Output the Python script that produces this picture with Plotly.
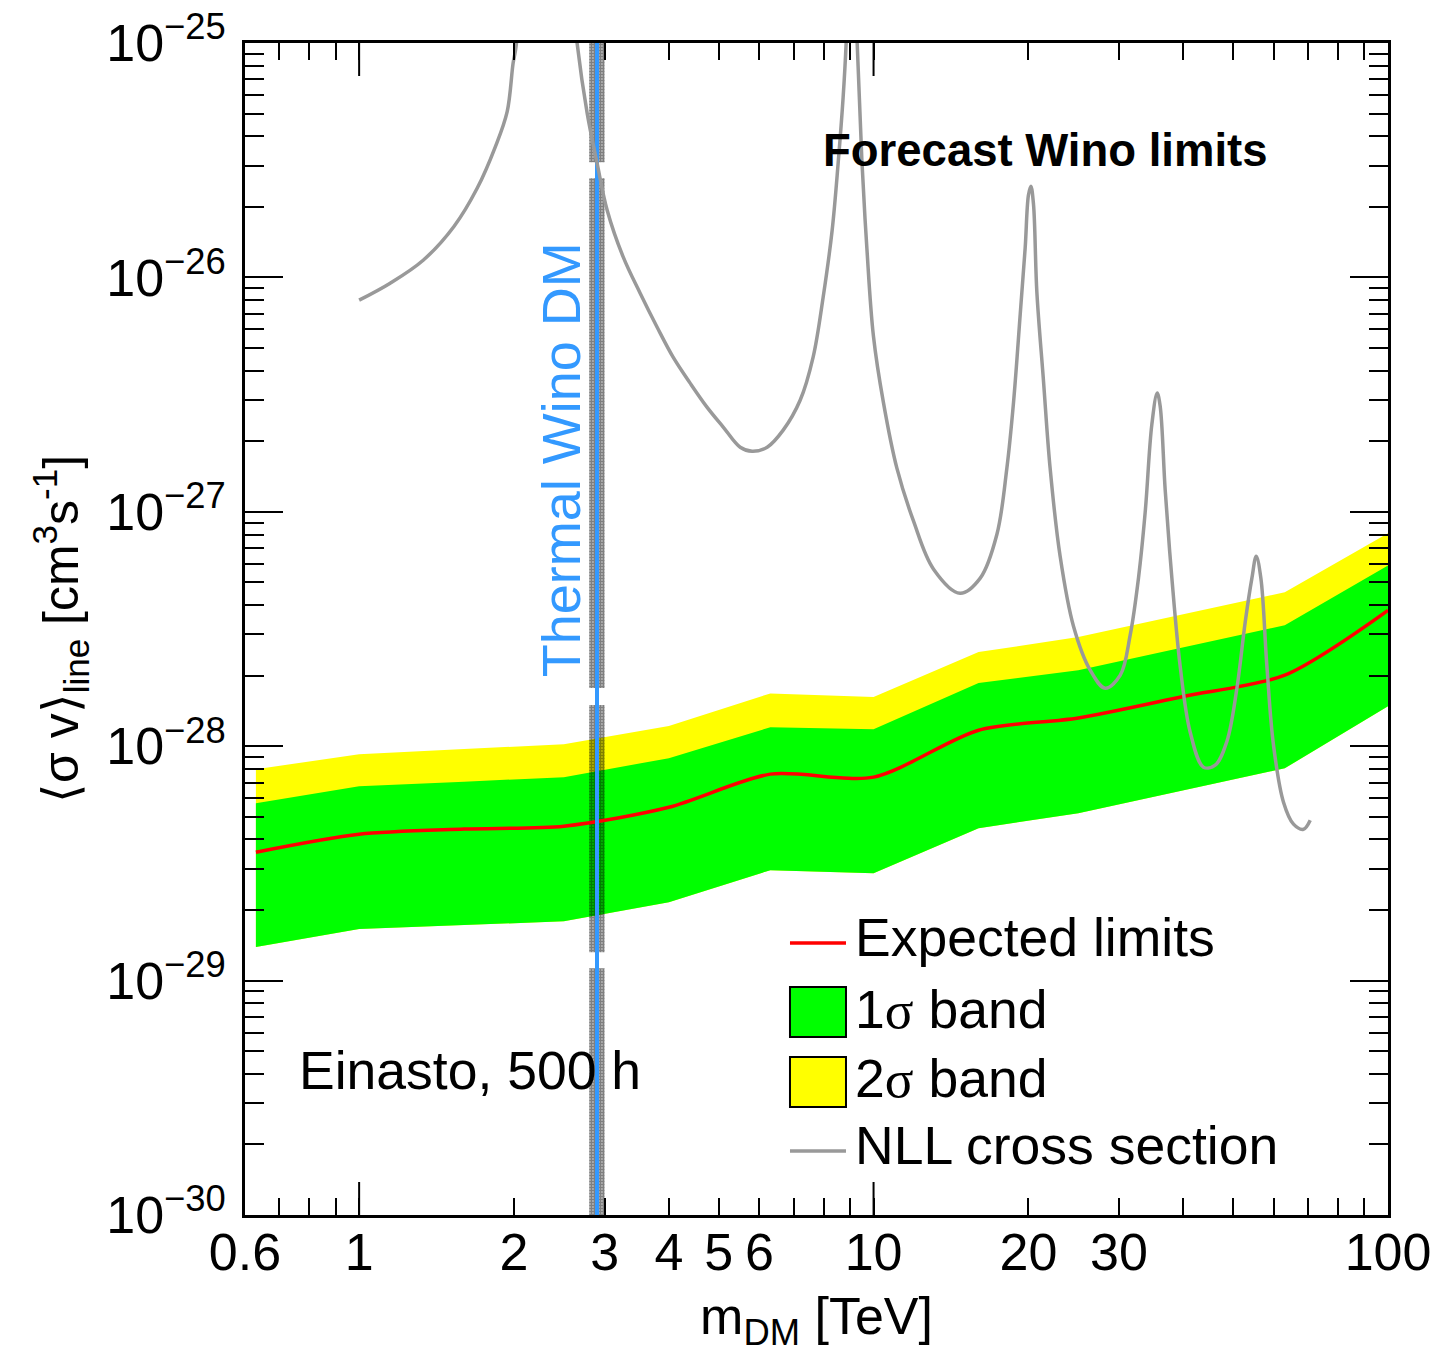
import plotly.graph_objects as go

# ---------------- data ----------------
# expected limits and bands, Einasto 500 h   (m_DM in TeV, <sigma v> in cm^3 s^-1)
mass = [0.63, 1.0, 1.6, 2.5, 4.0, 6.3, 10.0, 16.0, 25.0, 40.0, 63.0, 100.0]
expected = [3.53e-29, 4.21e-29, 4.43e-29, 4.56e-29, 5.49e-29, 7.6e-29,
            7.38e-29, 1.17e-28, 1.32e-28, 1.63e-28, 2.01e-28, 3.8e-28]
one_sigma_up = [5.71e-29, 6.75e-29, 7.06e-29, 7.38e-29, 8.89e-29, 1.205e-28,
                1.18e-28, 1.86e-28, 2.11e-28, 2.64e-28, 3.28e-28, 5.9e-28]
one_sigma_down = [1.39e-29, 1.66e-29, 1.73e-29, 1.79e-29, 2.16e-29, 2.96e-29,
                  2.87e-29, 4.47e-29, 5.18e-29, 6.48e-29, 8.05e-29, 1.48e-28]
two_sigma_up = [7.97e-29, 9.25e-29, 9.72e-29, 1.02e-28, 1.22e-28, 1.68e-28,
                1.62e-28, 2.52e-28, 2.92e-28, 3.65e-28, 4.54e-28, 8.1e-28]

# NLL wino cross section (resonances run off the top of the frame)
nll_mass = [1.0, 1.149, 1.332, 1.530, 1.696, 1.838, 1.940, 1.992, 2.020, 2.3,
            2.6, 2.653, 2.775, 2.901, 3.035, 3.262, 3.518, 3.796, 4.077, 4.400,
            4.748, 5.102, 5.505, 5.807, 6.212, 6.673, 7.199, 7.630, 7.980, 8.308,
            8.534, 8.727, 8.845, 9.05, 9.293, 9.490, 9.705, 9.995, 10.45, 11.10,
            11.96, 13.08, 14.73, 16.12, 17.37, 18.16, 18.71, 19.28, 19.71, 20.0,
            20.22, 20.46, 20.77, 21.39, 22.04, 23.05, 24.47, 26.37, 28.2, 30.17,
            31.53, 32.73, 33.73, 34.75, 35.59, 36.07, 36.89, 38.01, 39.45, 41.26,
            43.78, 46.14, 48.63, 50.85, 52.77, 54.38, 55.44, 56.61, 58.16, 59.9,
            62.64, 65.51, 68.5, 70.6]
nll_xsec = [8.0e-27, 9.45e-27, 1.184e-26, 1.654e-26, 2.40e-26, 3.59e-26, 5.10e-26, 8.2e-26, 9.78e-26, 1e-23,
            1.6e-25, 9.98e-26, 5.02e-26, 3.07e-26, 1.935e-26, 1.22e-26, 8.56e-27, 6.13e-27, 4.57e-27, 3.54e-27,
            2.79e-27, 2.30e-27, 1.886e-27, 1.813e-27, 1.886e-27, 2.23e-27, 2.99e-27, 4.57e-27, 8.23e-27, 1.59e-26,
            3.07e-26, 5.87e-26, 9.98e-26, 5e-25, 9.98e-26, 3.16e-26, 1.333e-26, 5.61e-27, 2.93e-27, 1.535e-27,
            9.12e-28, 5.69e-28, 4.49e-28, 5.21e-28, 8.02e-28, 1.535e-27, 2.93e-27, 6.97e-27, 1.333e-26, 2.24e-26,
            2.45e-26, 2.05e-26, 8.65e-27, 3.64e-27, 1.535e-27, 6.46e-28, 3.25e-28, 2.11e-28, 1.768e-28, 2.01e-28,
            2.97e-28, 5.21e-28, 9.96e-28, 2.36e-27, 3.21e-27, 2.82e-27, 1.237e-27, 5.21e-28, 2.19e-28, 1.147e-28,
            8.14e-29, 8.30e-29, 1.05e-28, 1.768e-28, 3.38e-28, 5.21e-28, 6.46e-28, 5.21e-28, 2.19e-28, 1.01e-28,
            5.77e-29, 4.65e-29, 4.42e-29, 4.83e-29]

# thermal wino mass and its band
wino_mass = 2.9
wino_band = [2.8, 3.0]
wino_band_segments = [[1e-30, 1.13e-29], [1.32e-29, 1.50e-28],
                      [1.77e-28, 2.65e-26], [3.10e-26, 1e-25]]

# axes
x_tick_vals = [0.6, 1, 2, 3, 4, 5, 6, 10, 20, 30, 100]
x_tick_text = ["0.6", "1", "2", "3", "4", "5", "6", "10", "20", "30", "100"]
x_minor_vals = [0.7, 0.8, 0.9, 7, 8, 9, 40, 50, 60, 70, 80, 90]
x_long_ticks = [1, 10]
y_range = [1e-30, 1e-25]
y_tick_vals = [1e-30, 1e-29, 1e-28, 1e-27, 1e-26, 1e-25]
y_tick_text = ["10<sup>\u221230</sup>", "10<sup>\u221229</sup>", "10<sup>\u221228</sup>",
               "10<sup>\u221227</sup>", "10<sup>\u221226</sup>", "10<sup>\u221225</sup>"]
y_minor_vals = [k * d for d in [1e-30, 1e-29, 1e-28, 1e-27, 1e-26] for k in range(2, 10)]

# colours
GREEN = "#00ff00"
YELLOW = "#ffff00"
RED = "#ff0000"
GRAY = "#999999"
BLUE = "#3399ff"
FONT = "Liberation Sans, Arial, sans-serif"

# ---------------- figure ----------------
fig = go.Figure()

# 2 sigma band (drawn beneath the 1 sigma band)
fig.add_trace(go.Scatter(
    x=mass + mass[::-1], y=two_sigma_up + one_sigma_down[::-1],
    fill="toself", fillcolor=YELLOW, line=dict(width=0), mode="lines",
    hoverinfo="skip", showlegend=False))
# 1 sigma band
fig.add_trace(go.Scatter(
    x=mass + mass[::-1], y=one_sigma_up + one_sigma_down[::-1],
    fill="toself", fillcolor=GREEN, line=dict(width=0), mode="lines",
    hoverinfo="skip", showlegend=False))

# thermal wino band (dotted pattern)
for lo, hi in wino_band_segments:
    fig.add_trace(go.Scatter(
        x=[wino_band[0], wino_band[1], wino_band[1], wino_band[0], wino_band[0]],
        y=[lo, lo, hi, hi, lo],
        fill="toself", fillcolor="rgba(0,0,0,0)",
        fillpattern=dict(shape=".", fgcolor="black", bgcolor="rgba(255,255,255,0)",
                         size=3, solidity=0.8),
        line=dict(width=0), mode="lines", hoverinfo="skip", showlegend=False))

# expected limit
fig.add_trace(go.Scatter(
    x=mass, y=expected, mode="lines",
    line=dict(color=RED, width=3.5, shape="spline", smoothing=0.8),
    showlegend=False))

# thermal wino line
fig.add_trace(go.Scatter(
    x=[wino_mass, wino_mass], y=y_range, mode="lines",
    line=dict(color=BLUE, width=4), showlegend=False))

# NLL cross section
fig.add_trace(go.Scatter(
    x=nll_mass, y=nll_xsec, mode="lines",
    line=dict(color=GRAY, width=3.5, shape="spline", smoothing=1.0),
    showlegend=False))

# ---------------- axes ----------------
axis_common = dict(
    type="log", showgrid=False, zeroline=False,
    showline=True, linecolor="black", linewidth=2.5, mirror="allticks",
    ticks="inside", tickcolor="black", tickwidth=2,
    tickfont=dict(family=FONT, size=52, color="black"),
)
fig.update_xaxes(
    **axis_common,
    range=[-0.2218487496, 2.0],
    tickvals=x_tick_vals, ticktext=x_tick_text, ticklen=17,
    minor=dict(tickvals=x_minor_vals, ticks="inside", ticklen=17,
               tickwidth=2, tickcolor="black"),
    ticklabelstandoff=-10,
    title=dict(text="m<sub>DM</sub> [TeV]", font=dict(family=FONT, size=52, color="black"),
               standoff=18),
)
fig.update_yaxes(
    **axis_common,
    range=[-30, -25],
    tickvals=y_tick_vals, ticktext=y_tick_text, ticklen=38,
    minor=dict(tickvals=y_minor_vals, ticks="inside", ticklen=19,
               tickwidth=2, tickcolor="black"),
    ticklabelstandoff=6,
    title=dict(text="\u27e8\u03c3 v\u27e9<sub>line</sub> [cm<sup>3</sup>s<sup>-1</sup>]",
               font=dict(family=FONT, size=50, color="black"), standoff=12),
)

# long major ticks on the mass axis (bottom and top)
tick_frac = 33 / 1172
for xv in x_long_ticks:
    for y0, y1 in [(0, tick_frac), (1 - tick_frac, 1)]:
        fig.add_shape(type="line", xref="x", yref="paper", x0=xv, x1=xv, y0=y0, y1=y1,
                      line=dict(color="black", width=2))

# ---------------- texts ----------------
fig.add_annotation(text="<b>Forecast Wino limits</b>", xref="paper", yref="paper",
                   x=0.700, y=0.9087, xanchor="center", yanchor="middle", showarrow=False,
                   font=dict(family=FONT, size=45.5, color="black"))
fig.add_annotation(text="Einasto, 500 h", xref="paper", yref="paper",
                   x=0.0455, y=0.1229, xanchor="left", yanchor="middle", showarrow=False,
                   font=dict(family=FONT, size=53.5, color="black"))
fig.add_annotation(text="Thermal Wino DM", xref="paper", yref="paper",
                   x=0.2765, y=0.644, xanchor="center", yanchor="middle", showarrow=False,
                   textangle=-90, font=dict(family=FONT, size=54, color=BLUE))

# ---------------- legend (drawn by hand) ----------------
lx0, lx1 = 0.4768, 0.5258
fig.add_shape(type="line", xref="paper", yref="paper", x0=lx0, x1=lx1, y0=0.2321, y1=0.2321,
              line=dict(color=RED, width=3.5))
fig.add_shape(type="rect", xref="paper", yref="paper", x0=lx0, x1=lx1, y0=0.1519, y1=0.1945,
              fillcolor=GREEN, line=dict(color="black", width=2))
fig.add_shape(type="rect", xref="paper", yref="paper", x0=lx0, x1=lx1, y0=0.0922, y1=0.1348,
              fillcolor=YELLOW, line=dict(color="black", width=2))
fig.add_shape(type="line", xref="paper", yref="paper", x0=lx0, x1=lx1, y0=0.0546, y1=0.0546,
              line=dict(color=GRAY, width=3.5))
legend_items = [("Expected limits", 0.2368),
                ("1<span style='font-family:Liberation Serif'>\u03c3</span> band", 0.1749),
                ("2<span style='font-family:Liberation Serif'>\u03c3</span> band", 0.1160),
                ("NLL cross section", 0.0589)]
for txt, yy in legend_items:
    fig.add_annotation(text=txt, xref="paper", yref="paper", x=0.532, y=yy,
                       xanchor="left", yanchor="middle", showarrow=False,
                       font=dict(family=FONT, size=53.5, color="black"))

fig.update_layout(
    width=1441, height=1355,
    margin=dict(l=245, r=53, t=43, b=140, autoexpand=False),
    paper_bgcolor="white", plot_bgcolor="white",
    font=dict(family=FONT, color="black"),
    showlegend=False,
)

fig.write_html("out.html", config={"displayModeBar": False},
               post_script="document.body.style.margin='0px';document.body.style.overflow='hidden';")
